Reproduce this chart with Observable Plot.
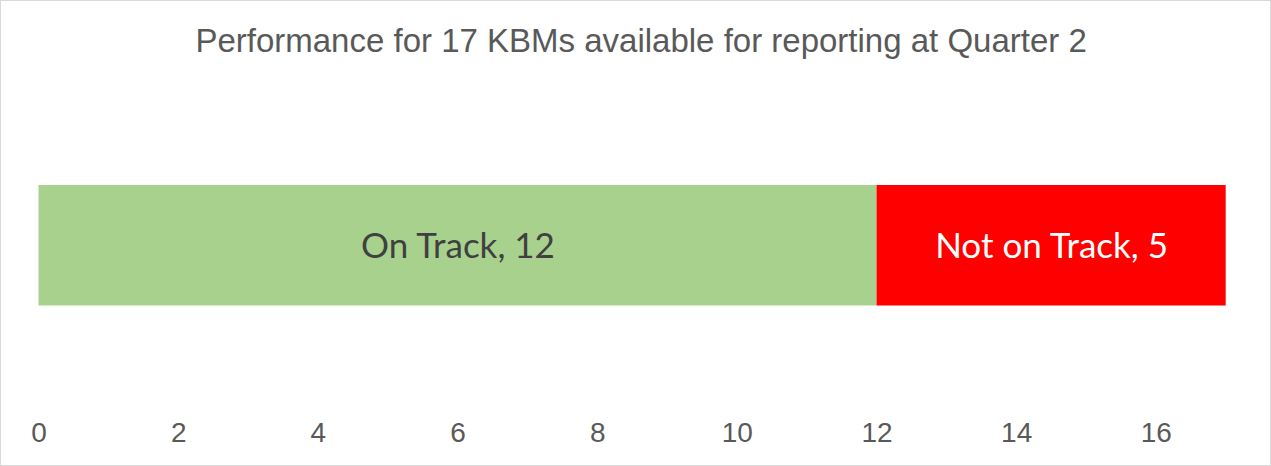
<!DOCTYPE html>
<html>
<head>
<meta charset="utf-8">
<script src="https://cdn.jsdelivr.net/npm/d3@7"></script>
<script src="https://cdn.jsdelivr.net/npm/@observablehq/plot@0.6"></script>
<style>
  html, body { margin: 0; padding: 0; background: #fff; }
  #wrap { position: relative; width: 1271px; height: 466px; }
  #wrap::after { content: ""; position: absolute; inset: 0; border: 1px solid #d9d9d9; pointer-events: none; }
  #wrap svg { display: block; }
</style>
</head>
<body>
<div id="wrap"></div>
<script>
const titleText = "Performance for 17 KBMs available for reporting at Quarter 2";
const categories = ["On Track", "Not on Track"];
const values = [12, 5];
const colors = ["#A9D18E", "#FF0000"];
const labelColors = ["#404040", "#FFFFFF"];
const tickValues = [0, 2, 4, 6, 8, 10, 12, 14, 16];

const data = categories.map((c, i) => ({category: c, value: values[i], label: `${c}, ${values[i]}`, lc: labelColors[i]}));

const chart = Plot.plot({
  width: 1271,
  height: 466,
  marginLeft: 38.5,
  marginRight: 45.3,
  marginTop: 185,
  marginBottom: 160.5,
  style: {background: "#fff"},
  x: {domain: [0, d3.sum(values)], label: null},
  color: {domain: categories, range: colors},
  marks: [
    Plot.barX(data, Plot.stackX({x: "value", fill: "category", order: null})),
    Plot.textX(data, Plot.stackX({x: "value", text: "label", fill: "lc", order: null, fontFamily: "Lato", fontSize: 35, dy: 1.5})),
    Plot.axisX({ticks: tickValues, tickFormat: d => String(d), tickSize: 0, tickPadding: 116.5, fontSize: 28, fontFamily: "Liberation Sans, Arial", color: "#595959", label: null}),
    Plot.text([titleText], {frameAnchor: "top", lineAnchor: "middle", text: d => d, dy: -143.9, dx: 8.5, fontSize: 33, fontFamily: "Liberation Sans, Arial", fill: "#595959"})
  ]
});
document.getElementById("wrap").appendChild(chart);
</script>
</body>
</html>
